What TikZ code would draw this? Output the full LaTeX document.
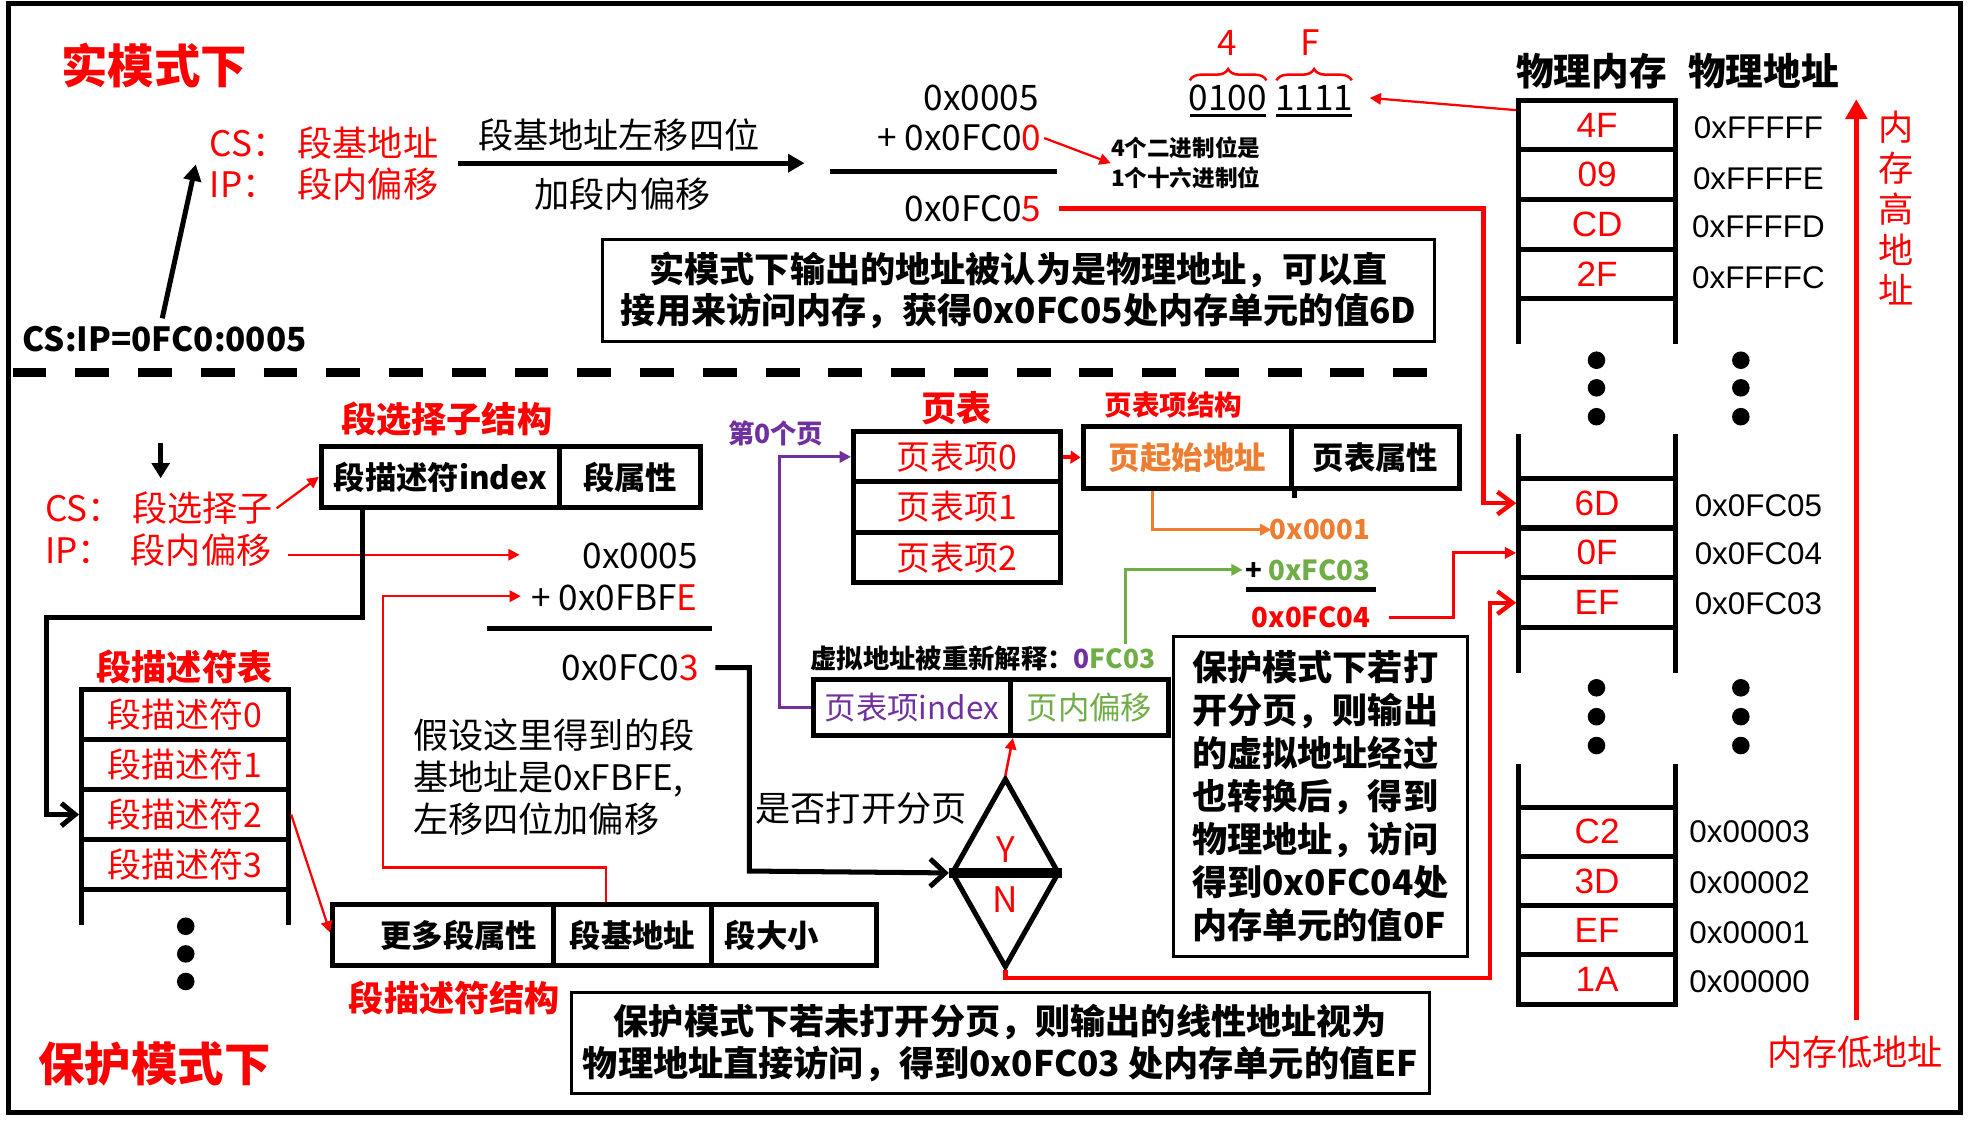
\documentclass[tikz,border=0pt]{standalone}
\usepackage{fontspec}
\setmainfont{Noto Sans CJK SC}
\newfontfamily\memfont{Liberation Sans}
\usetikzlibrary{arrows.meta,shapes.geometric,decorations.pathreplacing}
\definecolor{pur}{HTML}{7030A0}
\definecolor{grn}{HTML}{70AD47}
\definecolor{org}{HTML}{ED7D31}
\newcommand\fs[2]{\fontsize{#1}{#2}\selectfont}
\begin{document}
\begin{tikzpicture}[x=1pt,y=-1pt,
  box/.style={draw,line width=4pt,inner sep=0pt},
  note/.style={draw,line width=2.5pt,inner sep=0pt},
  mcell/.style={box,minimum width=125pt,text=red,font=\memfont\fs{28}{32}},
  maddr/.style={font=\memfont\fs{25}{29}},
  mdot/.style={circle,fill=black,inner sep=0pt,minimum size=14pt},
  redtxt/.style={text=red,font=\fs{28}{34}},
  redtitle/.style={text=red,font=\bfseries\fs{28}{34}},
  bigtitle/.style={text=red,font=\bfseries\fs{37}{44}},
  plain/.style={font=\fs{28}{34}},
  sumtxt/.style={font=\fs{28}{34},anchor=east,inner sep=0pt},
  fat/.style={line width=4pt},
  tri/.style={-{Triangle[length=13pt,width=14pt]}},
  smalltri/.style={-{Triangle[length=9pt,width=9pt]}},
  cellbox/.style={box,minimum height=48pt,font=\bfseries\fs{25}{30}},
]
\useasboundingbox (0,0) rectangle (1568,894);
\draw[line width=4pt] (7,3) rectangle (1562,886);
\draw[line width=7pt,dash pattern=on 27pt off 23pt] (10,297) -- (1145,297);

% ================= real mode =================
\node[bigtitle] (rmtitle) at (123,52) {实模式下};
\node[redtxt,anchor=west,inner sep=0pt] (cs1) at (167,114) {\makebox[70pt][l]{CS：}段基地址};
\node[redtxt,anchor=west,inner sep=0pt] (ip1) at (167,147) {\makebox[70pt][l]{IP：}段内偏移};
\node[font=\bfseries\fs{26.5}{32},anchor=west,inner sep=0pt] (csip) at (18,270) {CS:IP=0FC0:0005};
\coordinate (csipend) at (156,131);
\draw[fat,tri] ([xshift=-2pt,yshift=6pt]csip.north) -- (csipend);

\coordinate (sh0) at (365,130);
\coordinate (sh1) at (641,130);
\draw[fat,tri] (sh0) -- (sh1);
\node[plain] (shlab) at (493,108) {段基地址左移四位};
\node[plain] (addlab) at (496,155) {加段内偏移};

\node[sumtxt] (r1) at (828,78) {0x0005};
\node[sumtxt] (r2) at (830,110) {+ 0x0FC0\textcolor{red}{0}};
\draw[fat] (661,137) -- (842,137);
\node[sumtxt] (r3) at (830,166) {0x0FC0\textcolor{red}{5}};

\node[anchor=west,align=left,font=\bfseries\fs{18}{24},inner sep=0pt] (hex) at (885,130) {4个二进制位是\\1个十六进制位};
\draw[red,line width=1.8pt,smalltri] ([xshift=2pt]r2.east) -- (hex.west);

\node[font=\fs{28}{34},inner sep=0pt,text depth=0pt] (b1) at (978,78) {0100};
\node[font=\fs{28}{34},inner sep=0pt,text depth=0pt] (b2) at (1047,78) {1111};
\draw[line width=2.5pt] (948,92) -- (1009,92);
\draw[line width=2.5pt] (1017,92) -- (1077,92);
\draw[red,line width=2pt,decorate,decoration={brace,amplitude=9pt}] (948,64) -- (1009,64);
\draw[red,line width=2pt,decorate,decoration={brace,amplitude=9pt}] (1017,64) -- (1077,64);
\node[text=red,font=\fs{28}{34}] (h4) at (978,34) {4};
\node[text=red,font=\fs{28}{34}] (hF) at (1044,34) {F};

\node[note,minimum width=663pt,minimum height=81pt,align=center,font=\bfseries\fs{28}{33}] (rbox) at (811.5,231.5)
  {实模式下输出的地址被认为是物理地址，可以直\\接用来访问内存，获得0x0FC05处内存单元的值6D};

% ================= memory =================
\node[font=\bfseries\fs{30}{34}] (memt1) at (1268,57) {物理内存};
\node[font=\bfseries\fs{30}{34}] (memt2) at (1405,57) {物理地址};

\node[mcell,minimum height=39.5pt] (m1) at (1272.5,99.75) {4F};
\node[mcell,minimum height=39.5pt] (m2) at (1272.5,139.25) {09};
\node[mcell,minimum height=39.5pt] (m3) at (1272.5,178.75) {CD};
\node[mcell,minimum height=39.5pt] (m4) at (1272.5,218.25) {2F};
\draw[fat] (1210,238) -- (1210,274) (1335,238) -- (1335,274);
\node[maddr] (a1) at (1401,102) {0xFFFFF};
\node[maddr] (a2) at (1401,142) {0xFFFFE};
\node[maddr] (a3) at (1401,181) {0xFFFFD};
\node[maddr] (a4) at (1401,221) {0xFFFFC};
\foreach \yy/\nm in {287/t1,309/t2,332/t3}{
  \node[mdot] (dl\nm) at (1272,\yy) {};
  \node[mdot] (dr\nm) at (1387,\yy) {};
}
\draw[fat] (1210,346) -- (1210,381) (1335,346) -- (1335,381);
\node[mcell,minimum height=39.67pt] (m5) at (1272.5,400.85) {6D};
\node[mcell,minimum height=39.67pt] (m6) at (1272.5,440.5) {0F};
\node[mcell,minimum height=39.67pt] (m7) at (1272.5,480.2) {EF};
\draw[fat] (1210,500) -- (1210,536) (1335,500) -- (1335,536);
\node[maddr] (a5) at (1401,403) {0x0FC05};
\node[maddr] (a6) at (1401,441) {0x0FC04};
\node[maddr] (a7) at (1401,481) {0x0FC03};
\foreach \yy/\nm in {548/b1,571/b2,594/b3}{
  \node[mdot] (dl\nm) at (1272,\yy) {};
  \node[mdot] (dr\nm) at (1387,\yy) {};
}
\draw[fat] (1210,609) -- (1210,643) (1335,609) -- (1335,643);
\node[mcell,minimum height=39.25pt] (m8) at (1272.5,662.6) {C2};
\node[mcell,minimum height=39.25pt] (m9) at (1272.5,701.9) {3D};
\node[mcell,minimum height=39.25pt] (m10) at (1272.5,741.1) {EF};
\node[mcell,minimum height=39.25pt] (m11) at (1272.5,780.4) {1A};
\node[maddr] (a8) at (1394,663) {0x00003};
\node[maddr] (a9) at (1394,703) {0x00002};
\node[maddr] (a10) at (1394,743) {0x00001};
\node[maddr] (a11) at (1394,782) {0x00000};

\coordinate (memlo) at (1479,813);
\coordinate (memhi) at (1479,79);
\draw[red,line width=4pt,-{Triangle[length=16pt,width=17pt]}] (memlo) -- (memhi);
\node[text=red,font=\fs{28}{32.5},align=center,inner sep=0pt] (hiaddr) at (1511,166) {内\\存\\高\\地\\址};
\node[text=red,font=\fs{28}{34}] (loaddr) at (1478,838) {内存低地址};

% real-mode connectors to memory
\draw[red,line width=1.8pt,smalltri] ([yshift=12pt]m1.west) -- ([xshift=13pt]b2.east);
\coordinate (rm6d) at (1182,400.85);
\draw[red,line width=3.5pt,-{Straight Barb[length=12pt,width=18pt]}] ([xshift=14pt]r3.east) -| (rm6d) -- (m5.west);

% ================= protected mode =================
\node[bigtitle] (pmtitle) at (123,848) {保护模式下};
\node[redtitle] (seltitle) at (356,334) {段选择子结构};
\coordinate (da0) at (128,353);
\coordinate (da1) at (128,381);
\draw[line width=3.5pt,-{Triangle[length=12pt,width=14pt]}] (da0) -- (da1);
\node[redtxt,anchor=west,inner sep=0pt] (cs2) at (36,405) {\makebox[69pt][l]{CS：}段选择子};
\node[redtxt,anchor=west,inner sep=0pt] (ip2) at (36,438) {\makebox[68pt][l]{IP：}段内偏移};

\node[cellbox,minimum width=190pt] (sel1) at (351,380) {段描述符index};
\node[cellbox,minimum width=112pt] (sel2) at (502,380) {段属性};
\draw[red,line width=1.8pt,smalltri] ([xshift=3pt]cs2.east) -- (sel1.west);

\node[sumtxt] (p1) at (556,443) {0x0005};
\node[sumtxt] (p2) at (556,476) {+ 0x0FBF\textcolor{red}{E}};
\draw[fat] (388,501) -- (567,501);
\node[sumtxt] (p3) at (557,532) {0x0FC0\textcolor{red}{3}};
\coordinate (ipend) at (414,442);
\draw[red,line width=1.8pt,smalltri] ([xshift=13pt,yshift=-4pt]ip2.east) -- (ipend);

% descriptor table
\node[redtitle] (dtt) at (147,531) {段描述符表};
\node[box,minimum width=165pt,minimum height=40pt,text=red,font=\fs{27}{32}] (d0) at (147.5,569) {段描述符0};
\node[box,minimum width=165pt,minimum height=40pt,text=red,font=\fs{27}{32}] (d1) at (147.5,609) {段描述符1};
\node[box,minimum width=165pt,minimum height=40pt,text=red,font=\fs{27}{32}] (d2) at (147.5,649) {段描述符2};
\node[box,minimum width=165pt,minimum height=40pt,text=red,font=\fs{27}{32}] (d3) at (147.5,689) {段描述符3};
\draw[fat] (65,709) -- (65,737) (230,709) -- (230,737);
\node[mdot] (dd1) at (148,738) {};
\node[mdot] (dd2) at (148,760) {};
\node[mdot] (dd3) at (148,782) {};

\coordinate (k0) at (289,404);
\coordinate (k1) at (37,492);
\draw[fat,-{Straight Barb[length=11pt,width=18pt]}] (k0) |- (k1) |- (d2.west);

% descriptor structure
\node[cellbox,minimum width=176pt,text width=150pt,align=right] (s1) at (353,745) {更多段属性};
\node[cellbox,minimum width=126pt] (s2) at (504,745) {段基地址};
\node[cellbox,minimum width=131pt,text width=110pt,align=left] (s3) at (632.5,745) {段大小};
\node[redtitle] (dst) at (362,795) {段描述符结构};
\draw[red,line width=1.8pt,smalltri] (d2.east) -- ([yshift=2pt]s1.west);

\coordinate (q1) at (305,691);
\coordinate (q2) at (415,475);
\draw[red,line width=2pt,smalltri] ([xshift=-21pt]s2.north) |- (q1) |- (q2);

\node[plain,anchor=west,align=left,inner sep=0pt,font=\fs{28}{33.5}] (assume) at (329,619)
  {假设这里得到的段\\基地址是0xFBFE,\\左移四位加偏移};

% paging decision
\node[diamond,draw,line width=4pt,inner sep=0pt,minimum width=86pt,minimum height=151pt] (dia) at (801,695.5) {};
\draw[line width=8pt] (dia.west) -- (dia.east);
\node[text=red,font=\fs{28}{34}] (yy) at (801,677) {Y};
\node[text=red,font=\fs{28}{34}] (nn) at (801,717) {N};
\coordinate (w1) at (597,694);
\draw[fat,-{Straight Barb[length=12pt,width=22pt]}] ([xshift=13pt]p3.east) -| (w1) -- (dia.west);
\node[plain] (ispg) at (686,644) {是否打开分页};

% virtual address
\node[box,minimum width=157pt,minimum height=45pt,text=pur,font=\fs{25}{30}] (v1) at (726.5,563.5) {页表项index};
\node[box,minimum width=126pt,minimum height=45pt,text=grn,font=\fs{25}{30}] (v2) at (868,563.5) {页内偏移};
\node[font=\bfseries\fs{21}{26}] (vlab) at (783,525) {虚拟地址被重新解释：\textcolor{pur}{0}\textcolor{grn}{FC03}};
\draw[red,line width=2pt,smalltri] (dia.north) -- (v1.south east);

% page table
\node[text=red,font=\bfseries\fs{28}{34}] (ptt) at (762,325) {页表};
\node[text=pur,font=\bfseries\fs{21}{26}] (p0lab) at (618,345) {第0个页};
\node[box,minimum width=165pt,minimum height=40pt,text=red,font=\fs{27}{32}] (pt0) at (762.5,364) {页表项0};
\node[box,minimum width=165pt,minimum height=40pt,text=red,font=\fs{27}{32}] (pt1) at (762.5,404) {页表项1};
\node[box,minimum width=165pt,minimum height=40pt,text=red,font=\fs{27}{32}] (pt2) at (762.5,444) {页表项2};
\coordinate (pu1) at (621,563.5);
\draw[pur,line width=2.5pt,smalltri] (v1.west) -- (pu1) |- (pt0.west);

\node[text=red,font=\bfseries\fs{22}{26}] (pet) at (935,323) {页表项结构};
\node[box,minimum width=166pt,minimum height=49pt,text=org,font=\bfseries\fs{25}{30}] (pe1) at (946,364.5) {页起始地址};
\node[box,minimum width=134pt,minimum height=49pt,font=\bfseries\fs{25}{30}] (pe2) at (1096,364.5) {页表属性};
\draw[fat] (pe1.south east) -- ++(0,6);
\draw[red,line width=3pt,-{Triangle[length=8pt,width=10pt]}] (pt0.east) -- (pe1.west);

\node[text=org,font=\bfseries\fs{22}{26},anchor=east,inner sep=0pt] (o1) at (1092,422) {0x0001};
\node[font=\bfseries\fs{22}{26},anchor=east,inner sep=0pt] (o2) at (1092,454) {+ \textcolor{grn}{0xFC03}};
\draw[fat] (993,470) -- (1096,470);
\node[text=red,font=\bfseries\fs{22}{26},anchor=east,inner sep=0pt] (o3) at (1092,492) {0x0FC04};
\coordinate (oe) at (1013,422);
\coordinate (ge) at (990,454);
\coordinate (g0) at (897,513);
\draw[org,line width=2.5pt,smalltri] ([xshift=-28pt]pe1.south) |- (oe);
\draw[grn,line width=2.5pt,smalltri] (g0) |- (ge);
\coordinate (rr1) at (1158,492);
\draw[red,line width=2.5pt,smalltri] ([xshift=15pt]o3.east) -- (rr1) |- (m6.west);

\coordinate (nn1) at (1187,779);
\draw[red,line width=3.5pt,-{Straight Barb[length=12pt,width=18pt]}] (dia.south) |- (nn1) |- (m7.west);

% explanation boxes
\node[note,minimum width=234pt,minimum height=255pt,align=left,font=\bfseries\fs{28}{34.3}] (pgbox) at (1052,634.5)
  {保护模式下若打\\开分页，则输出\\的虚拟地址经过\\也转换后，得到\\物理地址，访问\\得到0x0FC04处\\内存单元的值0F};
\node[note,minimum width=684pt,minimum height=80pt,align=center,font=\bfseries\fs{28}{34}] (npbox) at (797,831)
  {保护模式下若未打开分页，则输出的线性地址视为\\物理地址直接访问，得到0x0FC03 处内存单元的值EF};
\end{tikzpicture}
\end{document}
